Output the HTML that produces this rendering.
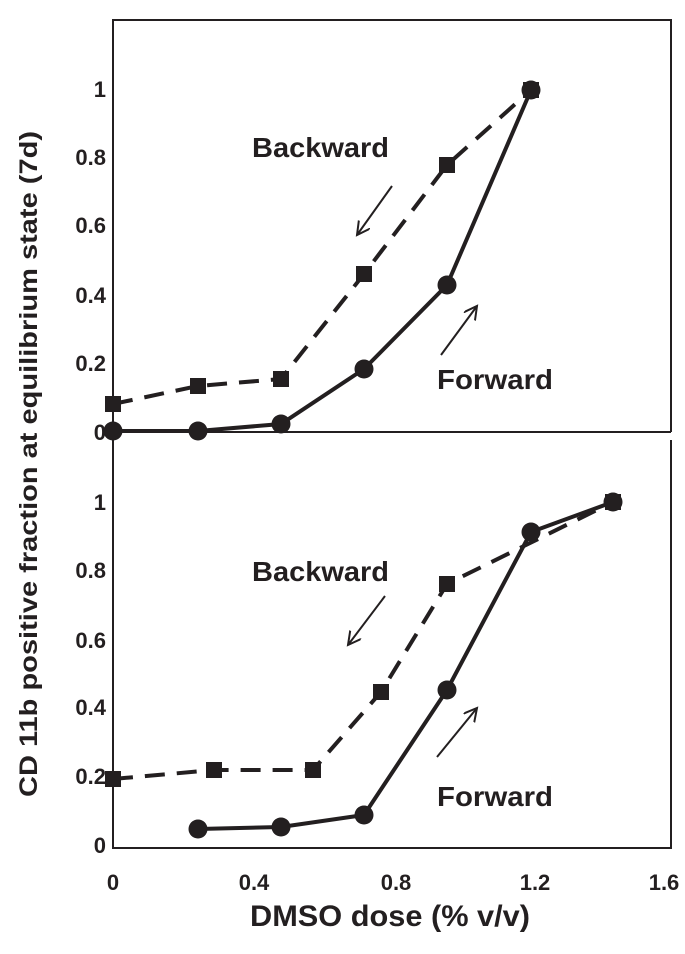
<!DOCTYPE html>
<html><head><meta charset="utf-8"><style>body{margin:0;background:#fff}</style></head><body>
<svg width="685" height="949" viewBox="0 0 685 949" xmlns="http://www.w3.org/2000/svg" font-family="Liberation Sans, sans-serif" font-weight="bold" fill="#231f20">
<defs>
<marker id="ah" markerWidth="16" markerHeight="16" refX="13" refY="7" orient="auto" markerUnits="userSpaceOnUse"><path d="M0,0 L13,7 L0,14" fill="none" stroke="#231f20" stroke-width="2"/></marker>
</defs>
<g stroke="#231f20" stroke-width="2" fill="none">
<path d="M671,432 L671,20 L113,20 L113,848 L671,848 L671,440"/>
<line x1="113" y1="432" x2="671" y2="432"/>
</g>
<g font-size="22" text-anchor="end">
<text x="106" y="97">1</text><text x="106" y="165">0.8</text><text x="106" y="233">0.6</text><text x="106" y="303">0.4</text><text x="106" y="371">0.2</text><text x="106" y="440">0</text>
<text x="106" y="510">1</text><text x="106" y="578">0.8</text><text x="106" y="648">0.6</text><text x="106" y="715">0.4</text><text x="106" y="784">0.2</text><text x="106" y="853">0</text>
</g>
<g font-size="22" text-anchor="middle">
<text x="113" y="890">0</text><text x="254" y="890">0.4</text><text x="396" y="890">0.8</text><text x="535" y="890">1.2</text><text x="664" y="890">1.6</text>
</g>
<text x="250" y="926" font-size="30" textLength="280" lengthAdjust="spacingAndGlyphs">DMSO dose (% v/v)</text>
<text transform="translate(37,464) rotate(-90)" font-size="25" text-anchor="middle" textLength="666" lengthAdjust="spacingAndGlyphs">CD 11b positive fraction at equilibrium state (7d)</text>
<g font-size="28">
<text x="252" y="157" textLength="137" lengthAdjust="spacingAndGlyphs">Backward</text><text x="437" y="389" textLength="116" lengthAdjust="spacingAndGlyphs">Forward</text>
<text x="252" y="581" textLength="137" lengthAdjust="spacingAndGlyphs">Backward</text><text x="437" y="806" textLength="116" lengthAdjust="spacingAndGlyphs">Forward</text>
</g>
<g stroke="#231f20" stroke-width="2" marker-end="url(#ah)">
<line x1="392" y1="186" x2="357" y2="235"/><line x1="441" y1="355" x2="477" y2="306"/>
<line x1="385" y1="596" x2="348" y2="645"/><line x1="437" y1="757" x2="477" y2="708"/>
</g>
<g fill="none" stroke="#231f20" stroke-width="4">
<polyline stroke-dasharray="20,12" points="113,404 198,386 281,379 364,274 447,165 531,90"/>
<polyline points="113,431 198,431 281,424 364,369 447,285 531,90"/>
<polyline stroke-dasharray="20,12" points="113,779 214,770 313,770 381,692 447,584 613,502"/>
<polyline points="198,829 281,827 364,815 447,690 531,532 613,502"/>
</g>
<g>
<rect x="105" y="396" width="16" height="16"/><rect x="190" y="378" width="16" height="16"/><rect x="273" y="371" width="16" height="16"/><rect x="356" y="266" width="16" height="16"/><rect x="439" y="157" width="16" height="16"/><rect x="523" y="82" width="16" height="16"/>
<circle cx="113" cy="431" r="9.5"/><circle cx="198" cy="431" r="9.5"/><circle cx="281" cy="424" r="9.5"/><circle cx="364" cy="369" r="9.5"/><circle cx="447" cy="285" r="9.5"/><circle cx="531" cy="90" r="9.5"/>
<rect x="105" y="771" width="16" height="16"/><rect x="206" y="762" width="16" height="16"/><rect x="305" y="762" width="16" height="16"/><rect x="373" y="684" width="16" height="16"/><rect x="439" y="576" width="16" height="16"/><rect x="605" y="494" width="16" height="16"/>
<circle cx="198" cy="829" r="9.5"/><circle cx="281" cy="827" r="9.5"/><circle cx="364" cy="815" r="9.5"/><circle cx="447" cy="690" r="9.5"/><circle cx="531" cy="532" r="9.5"/><circle cx="613" cy="502" r="9.5"/>
</g>
</svg>
</body></html>
